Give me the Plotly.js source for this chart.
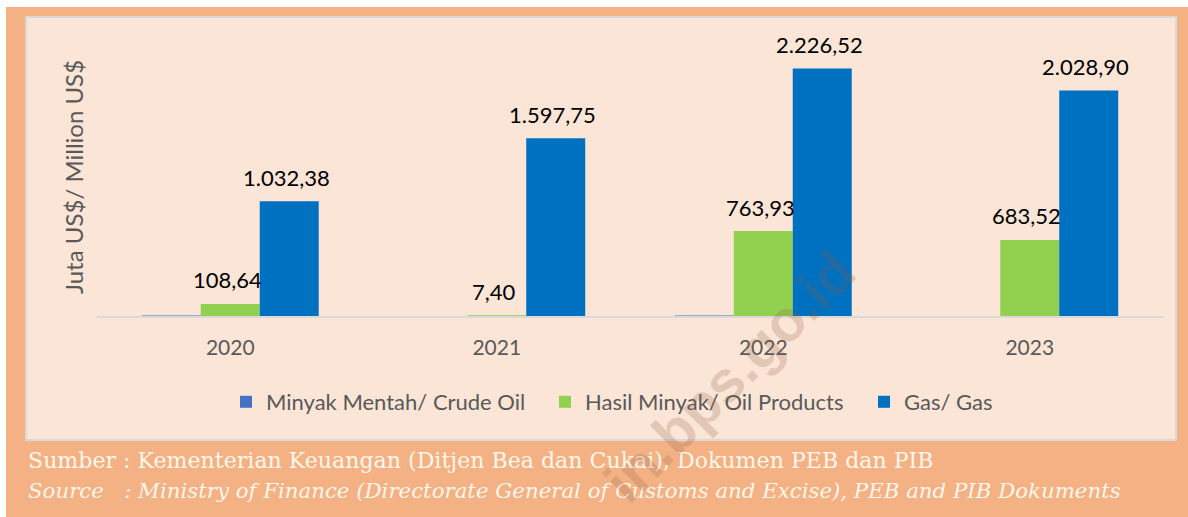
<!DOCTYPE html>
<html>
<head>
<meta charset="utf-8">
<script src="https://cdn.plot.ly/plotly-3.0.1.min.js"></script>
<style>html,body{margin:0;padding:0;background:#fff;}#chart{width:1188px;height:517px;}</style>
</head>
<body>
<div id="chart"></div>
<script>
// ---- data ----
const years = ["2020", "2021", "2022", "2023"];
const crudeOil = [4.8, 0.3, 3.9, 0.2];
const oilProducts = [108.64, 7.40, 763.93, 683.52];
const gas = [1032.38, 1597.75, 2226.52, 2028.90];
const seriesNames = ["Minyak Mentah/ Crude Oil", "Hasil Minyak/ Oil Products", "Gas/ Gas"];
const yTitle = "Juta US$/ Million US$";
const sourceLine1 = "Sumber : Kementerian Keuangan (Ditjen Bea dan Cukai), Dokumen PEB dan PIB";
const sourceLine2 = "Source\u00A0\u00A0\u00A0: Ministry of Finance (Directorate General of Customs and Excise), PEB and PIB Dokuments";
const watermark = "in.bps.go.id";

// ---- layout helpers ----
const W = 1188, H = 517;
const M = {l: 97, r: 25, t: 38, b: 201, autoexpand: false};
const PW = W - M.l - M.r, PH = H - M.t - M.b;
const px = x => (x - M.l) / PW;
const py = y => (H - M.b - y) / PH;
const bargap = 0.336;
const barW = (1 - bargap) / 3;

function fmtID(v) {
  const parts = v.toFixed(2).split(".");
  const intPart = parts[0].replace(/\B(?=(\d{3})+(?!\d))/g, ".");
  return intPart + "," + parts[1];
}

const colors = ["#4472C4", "#92D050", "#0070C0"];
const allSeries = [crudeOil, oilProducts, gas];

const traces = allSeries.map((vals, k) => ({
  type: "bar",
  name: seriesNames[k],
  x: years,
  y: vals,
  marker: {color: colors[k], line: {width: 0}},
  hoverinfo: "skip"
}));

const annotations = [];
[1, 2].forEach(k => {
  allSeries[k].forEach((v, i) => {
    annotations.push({
      xref: "x", yref: "y",
      x: i + (k - 1) * barW,
      y: v,
      text: fmtID(v),
      showarrow: false,
      yanchor: "middle",
      xshift: -3,
      yshift: 24,
      font: {family: "Lato, sans-serif", size: 22, color: "#000000"}
    });
  });
});

annotations.push({
  xref: "paper", yref: "paper",
  x: px(26), y: py(460), xanchor: "left", yanchor: "middle",
  text: sourceLine1, showarrow: false,
  font: {family: "DejaVu Serif, serif", size: 22.1, color: "#FFF7EC"}
});
annotations.push({
  xref: "paper", yref: "paper",
  x: px(26), y: py(490), xanchor: "left", yanchor: "middle",
  text: "<i>" + sourceLine2 + "</i>", showarrow: false,
  font: {family: "DejaVu Serif, serif", size: 21.3, color: "#FFF7EC"}
});
annotations.push({
  xref: "paper", yref: "paper",
  x: px(870), y: py(236), xanchor: "right", yanchor: "top",
  text: "<b>" + watermark + "</b>", showarrow: false, textangle: -45,
  font: {family: "Liberation Sans, Arial, sans-serif", size: 58, color: "rgba(140,95,70,0.22)"}
});

const shapes = [
  {type: "rect", xref: "paper", yref: "paper", x0: px(6), x1: px(1188), y0: py(517), y1: py(7),
   fillcolor: "#F4B183", line: {width: 0}, layer: "below"},
  {type: "rect", xref: "paper", yref: "paper", x0: px(26), x1: px(1176), y0: py(440), y1: py(17),
   fillcolor: "#FBE5D6", line: {color: "#D9D9D9", width: 2}, layer: "below"}
];

const layout = {
  width: W, height: H,
  margin: M,
  paper_bgcolor: "#ffffff",
  plot_bgcolor: "rgba(0,0,0,0)",
  barmode: "group",
  bargap: bargap,
  bargroupgap: 0,
  showlegend: true,
  legend: {
    orientation: "h", x: px(226), xanchor: "left", y: py(402), yanchor: "middle",
    bgcolor: "rgba(0,0,0,0)",
    entrywidth: 274, entrywidthmode: "pixels",
    font: {family: "Lato, sans-serif", size: 22, color: "#595959"}
  },
  xaxis: {
    type: "category",
    showline: true, linecolor: "#D9D9D9", linewidth: 2,
    ticks: "", ticklabelstandoff: 12,
    showgrid: false, zeroline: false,
    tickfont: {family: "Lato, sans-serif", size: 21, color: "#595959"},
    automargin: false
  },
  yaxis: {
    range: [0, 2500],
    showline: false, showgrid: false, zeroline: false,
    showticklabels: false, ticks: "",
    title: {text: yTitle, standoff: 5, font: {family: "Lato, sans-serif", size: 24, color: "#595959"}},
    automargin: false
  },
  shapes: shapes,
  annotations: annotations
};

Plotly.newPlot("chart", traces, layout, {displayModeBar: false, staticPlot: true});
</script>
</body>
</html>
